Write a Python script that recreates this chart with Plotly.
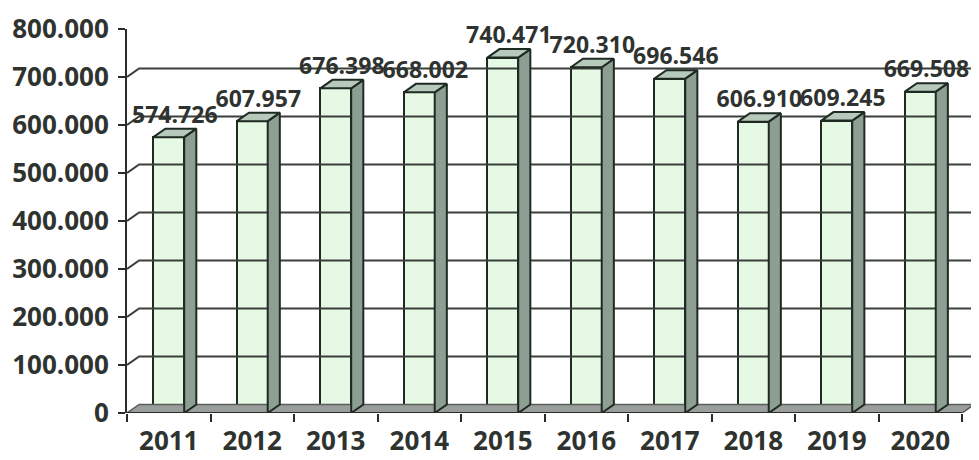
import plotly.graph_objects as go

years = ["2011", "2012", "2013", "2014", "2015", "2016", "2017", "2018", "2019", "2020"]
values = [574726, 607957, 676398, 668002, 740471, 720310, 696546, 606910, 609245, 669508]
y_ticks = [0, 100000, 200000, 300000, 400000, 500000, 600000, 700000, 800000]
y_tick_text = ["0", "100.000", "200.000", "300.000", "400.000", "500.000", "600.000", "700.000", "800.000"]

# page body has an 8px default margin, so the figure is sized to fit the window
W, H = 971, 452
L, R, T, B = 119, 4, 21, 47
plot_w = W - L - R
plot_h = H - T - B
xmin, xmax = -0.5, len(years) - 0.5
ymax = 800000
px_y = plot_h / ymax
DX = 0.145              # depth offset in x data units
DY = 8.5 / px_y         # depth offset in y data units
BW = 0.37               # bar width in category units

front = "#e6f9e4"
side = "#8d9f92"
top = "#b7c9bb"
edge = "#1f2a23"
text_col = "#2f3330"

fig = go.Figure()

# back-wall gridlines with diagonal connectors to the axis
for v in y_ticks[1:-1]:
    fig.add_trace(go.Scatter(
        x=[xmin, xmin + DX, xmax + DX], y=[v, v + DY, v + DY],
        mode="lines", line=dict(color="#3a3f3b", width=2),
        hoverinfo="skip", showlegend=False))

# floor
fig.add_trace(go.Scatter(
    x=[xmin, xmax, xmax + DX, xmin + DX, xmin], y=[0, 0, DY, DY, 0],
    mode="lines", fill="toself", fillcolor="#9a9e9b",
    line=dict(color="#5a5f5b", width=1.5),
    hoverinfo="skip", showlegend=False))

# side and top faces
for i, v in enumerate(values):
    xr = i + BW / 2
    xl = i - BW / 2
    fig.add_trace(go.Scatter(
        x=[xr, xr + DX, xr + DX, xr, xr], y=[0, DY, v + DY, v, 0],
        mode="lines", fill="toself", fillcolor=side,
        line=dict(color=edge, width=2), hoverinfo="skip", showlegend=False))
    fig.add_trace(go.Scatter(
        x=[xl, xr, xr + DX, xl + DX, xl], y=[v, v, v + DY, v + DY, v],
        mode="lines", fill="toself", fillcolor=top,
        line=dict(color=edge, width=2), hoverinfo="skip", showlegend=False))

# front faces
fig.add_trace(go.Bar(
    x=list(range(len(years))), y=values, width=BW,
    marker=dict(color=front, line=dict(color=edge, width=2)),
    showlegend=False, hoverinfo="skip"))

# value labels
fig.add_trace(go.Scatter(
    x=[i + DX / 2 for i in range(len(years))], y=[v + DY for v in values],
    mode="text", text=[f"{v:,}".replace(",", ".") for v in values],
    textposition="top center", cliponaxis=False,
    textfont=dict(family="Open Sans", size=23, color=text_col, weight="bold"),
    hoverinfo="skip", showlegend=False))

# front x-axis line
fig.add_trace(go.Scatter(
    x=[xmin, xmax], y=[0, 0], mode="lines",
    line=dict(color="#2a2e2b", width=2), hoverinfo="skip", showlegend=False))

fig.update_layout(
    width=W, height=H,
    margin=dict(l=L, r=R, t=T, b=B),
    plot_bgcolor="rgba(0,0,0,0)", paper_bgcolor="white",
    bargap=0,
    xaxis=dict(
        range=[xmin, xmax + DX + 0.01], tickvals=list(range(len(years))), ticktext=years,
        ticks="", showgrid=False, zeroline=False, showline=False, automargin=False,
        ticklabelstandoff=10, ticklabeloverflow="allow",
        tickfont=dict(family="Open Sans", size=26, color=text_col, weight="bold"),
        minor=dict(tickmode="array", tickvals=[k + 0.5 for k in range(-1, len(years))],
                   ticks="outside", ticklen=8, tickwidth=2, tickcolor="#2a2e2b"),
        fixedrange=True),
    yaxis=dict(
        range=[0, ymax], tickvals=y_ticks, ticktext=y_tick_text,
        ticks="outside", ticklen=7, tickwidth=2, tickcolor="#2a2e2b",
        showgrid=False, zeroline=False, showline=True, linecolor="#2a2e2b", linewidth=2,
        automargin=False, ticklabelstandoff=4, ticklabeloverflow="allow",
        tickfont=dict(family="Open Sans", size=26, color=text_col, weight="bold"),
        fixedrange=True),
)

fig.write_html("out.html")
